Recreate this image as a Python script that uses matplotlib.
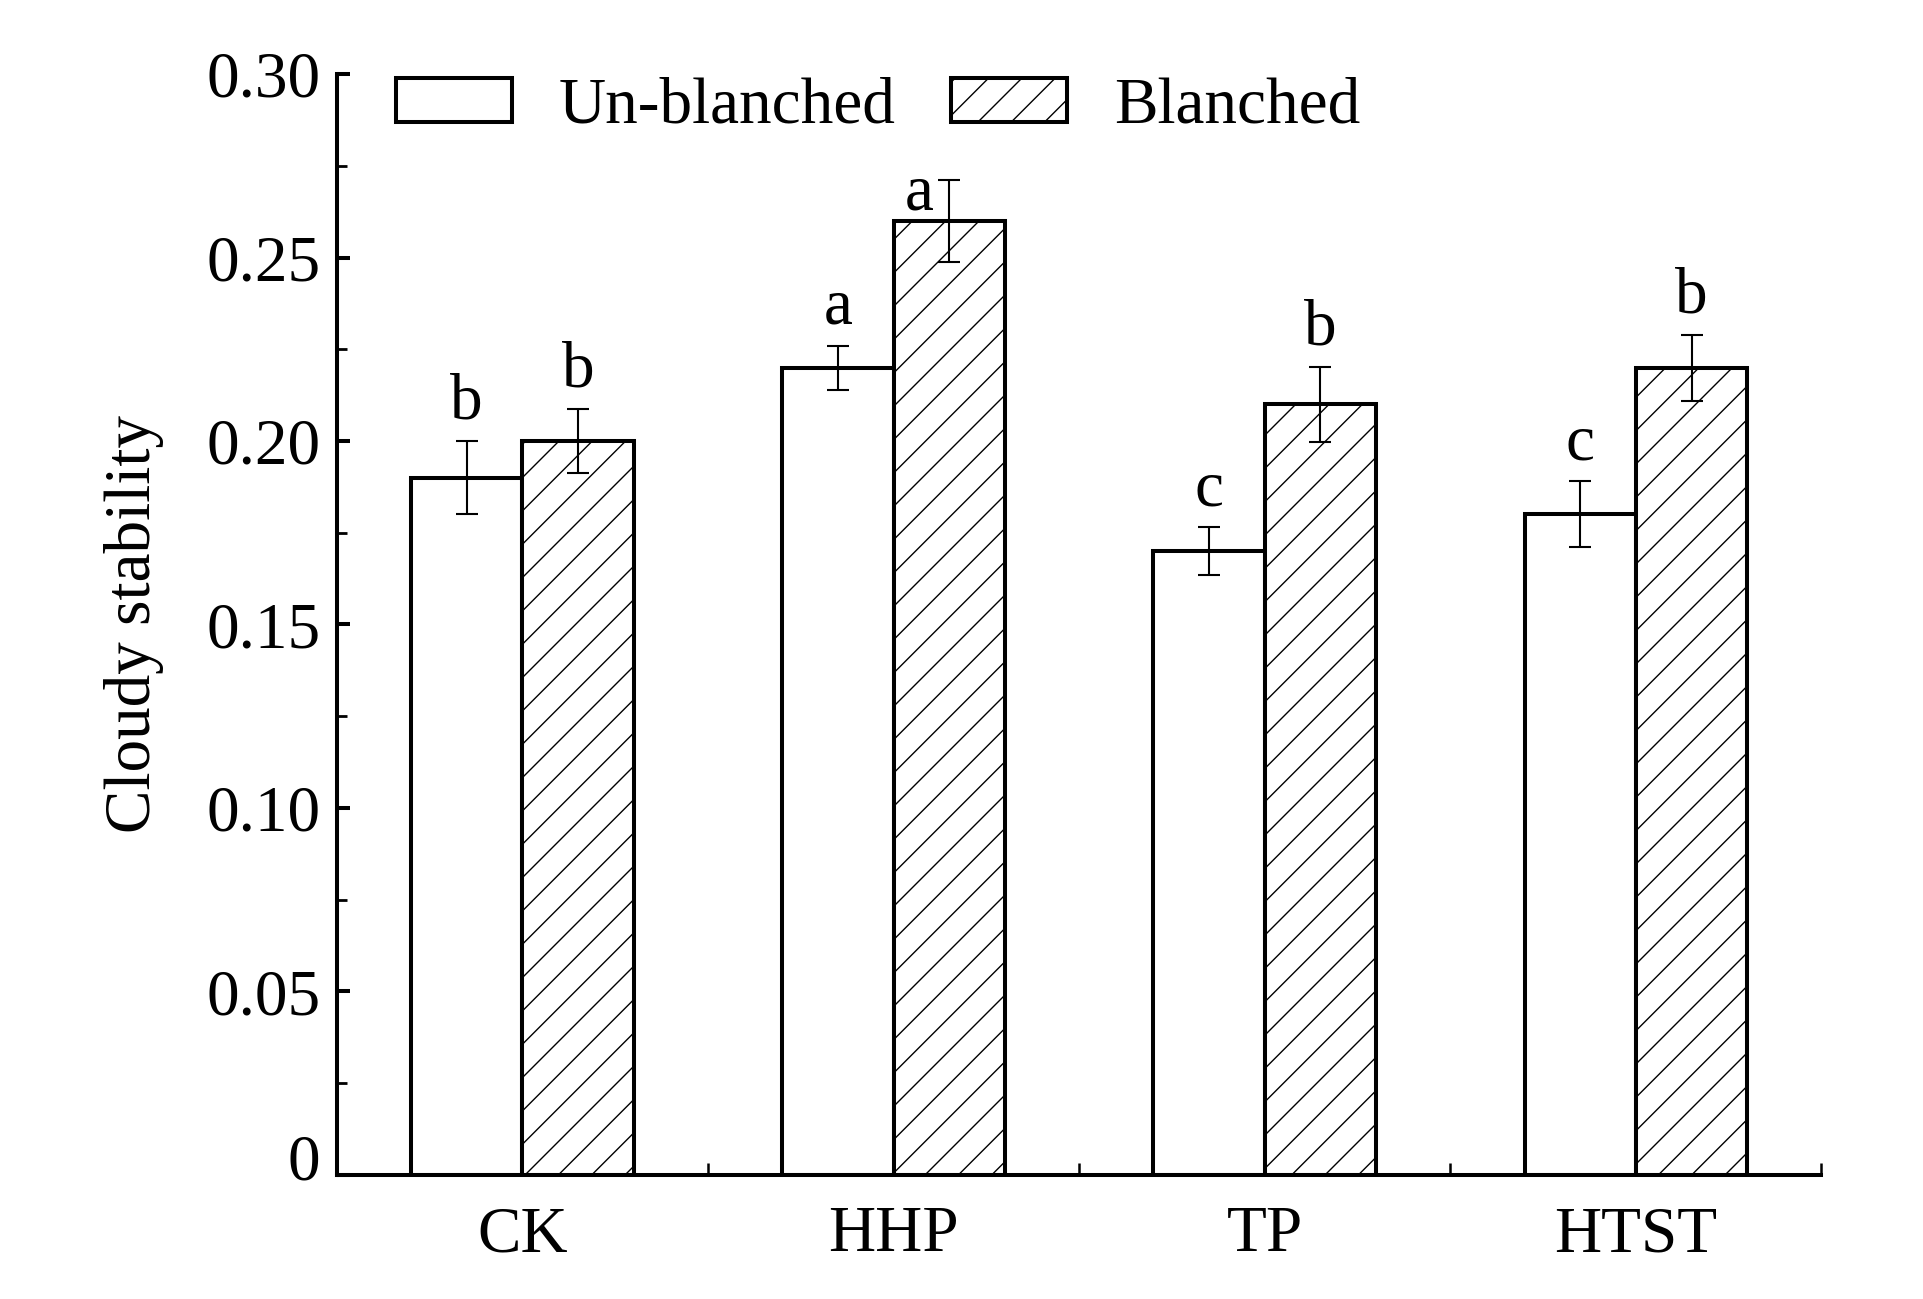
import numpy as np
import matplotlib
matplotlib.use("Agg")
import matplotlib.pyplot as plt
import matplotlib.transforms as mtransforms
from matplotlib.patches import Patch

# Data
groups = ["CK", "HHP", "TP", "HTST"]
unblanched = [0.19, 0.22, 0.17, 0.18]
unblanched_err = [0.010, 0.006, 0.0065, 0.009]
blanched = [0.20, 0.26, 0.21, 0.22]
blanched_err = [0.0088, 0.0112, 0.0102, 0.009]
letters_unb = ["b", "a", "c", "c"]
letters_bl = ["b", "a", "b", "b"]
yticks = [0, 0.05, 0.10, 0.15, 0.20, 0.25, 0.30]
ytick_labels = ["0", "0.05", "0.10", "0.15", "0.20", "0.25", "0.30"]

plt.rcParams['font.family'] = ['Liberation Serif', 'DejaVu Serif']
plt.rcParams['hatch.linewidth'] = 1.0
fs = 47
lw = 2.9

fig = plt.figure(figsize=(19.23, 12.99), dpi=100)
ax = fig.add_axes([0.1752, 0.0955, 0.772, 0.8475])

x = np.arange(1, len(groups) + 1)
w = 0.3
ax.bar(x - w / 2, unblanched, w, color='white', edgecolor='black', linewidth=lw, zorder=2)
ax.bar(x + w / 2, blanched, w, color='white', edgecolor='black', linewidth=lw,
       hatch='/', zorder=2)
ax.errorbar(x - w / 2, unblanched, yerr=unblanched_err, fmt='none', ecolor='black',
            elinewidth=1.5, capsize=8, capthick=1.5, zorder=3)
ax.errorbar(x + w / 2, blanched, yerr=blanched_err, fmt='none', ecolor='black',
            elinewidth=1.5, capsize=8, capthick=1.5, zorder=3)

# significance letters
for i in range(len(groups)):
    ax.text(x[i] - w / 2, unblanched[i] + unblanched_err[i] + 0.006, letters_unb[i],
            ha='center', va='baseline', fontsize=fs)
    top = blanched[i] + blanched_err[i] + 0.006
    dx = 0
    if i == 1:
        # this one sits beside the error bar in the original
        top = blanched[i] + 0.003
        dx = -0.08
    ax.text(x[i] + w / 2 + dx, top, letters_bl[i], ha='center', va='baseline', fontsize=fs)

ax.set_xlim(0.5, 4.5)
ax.set_ylim(0, 0.30)
ax.set_xticks(x)
ax.set_xticklabels(groups, fontsize=fs)
ax.set_xticks([1.5, 2.5, 3.5, 4.5], minor=True)
ax.tick_params(axis='x', which='major', length=0, pad=22)
ax.tick_params(axis='x', which='minor', direction='in', length=9, width=1.8)
ax.set_yticks(yticks)
ax.set_yticklabels(ytick_labels, fontsize=fs)
ax.set_yticks(np.arange(0.025, 0.30, 0.05), minor=True)
ax.tick_params(axis='y', which='major', direction='in', length=9, width=2.9, pad=12)
ax.tick_params(axis='y', which='minor', direction='in', length=7, width=2.0)
ax.set_ylabel("Cloudy stability", fontsize=fs, labelpad=30)

# the "0" label sits a little above the axis in the original
zero_lbl = ax.yaxis.get_major_ticks()[0].label1
zero_lbl.set_transform(zero_lbl.get_transform() +
                       mtransforms.ScaledTranslation(0, 0.18, fig.dpi_scale_trans))

ax.spines['top'].set_visible(False)
ax.spines['right'].set_visible(False)
ax.spines['left'].set_linewidth(lw)
ax.spines['bottom'].set_linewidth(lw)

handles = [Patch(facecolor='white', edgecolor='black', linewidth=lw, label='Un-blanched'),
           Patch(facecolor='white', edgecolor='black', linewidth=lw, hatch='/', label='Blanched')]
ax.legend(handles=handles, loc='upper left', bbox_to_anchor=(0.04, 0.997), ncol=2,
          frameon=False, fontsize=fs, handlelength=1.78, handleheight=0.68,
          handletextpad=0.71, columnspacing=0.85, borderpad=0, borderaxespad=0)

fig.savefig("out.png", dpi=100)
